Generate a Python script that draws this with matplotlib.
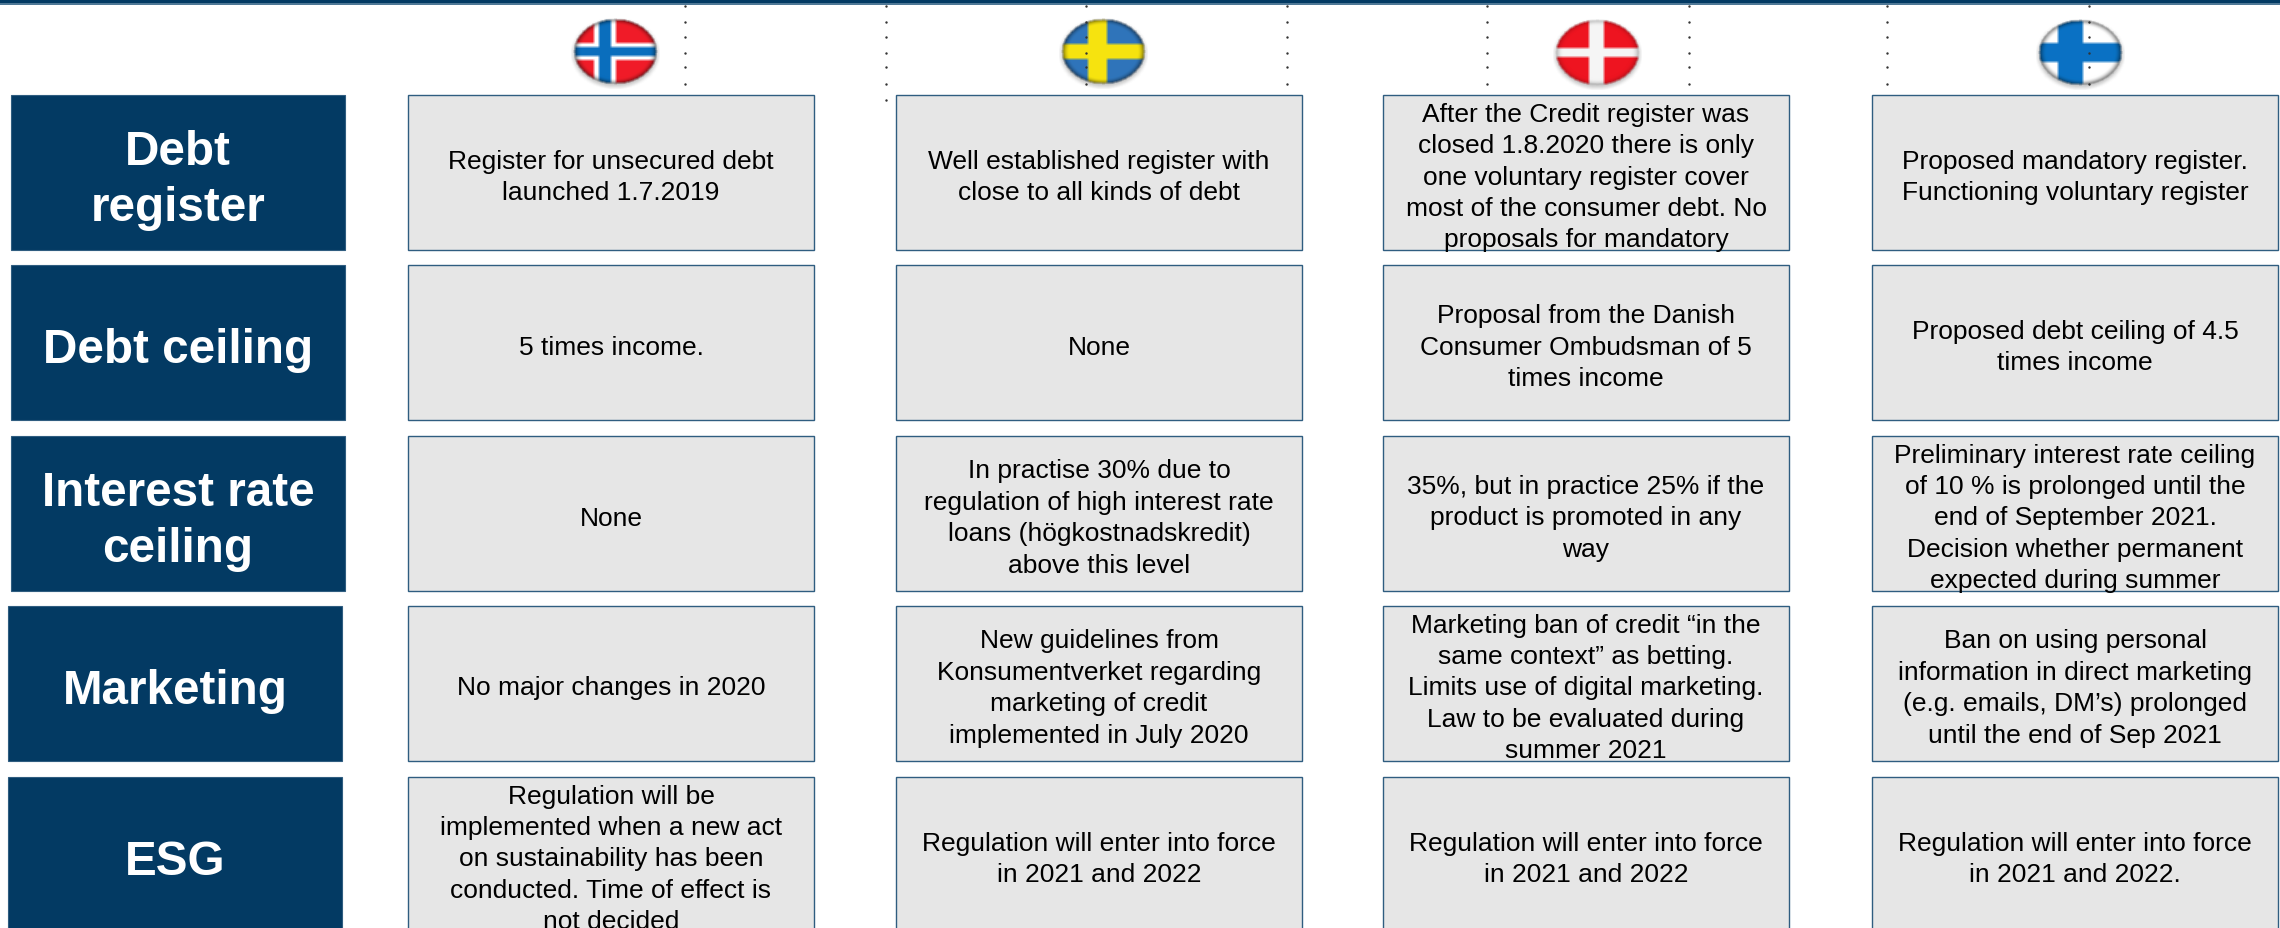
import numpy as np
import matplotlib
matplotlib.use("Agg")
import matplotlib.pyplot as plt
from matplotlib.patches import Rectangle

plt.rcParams['font.family'] = ['Liberation Sans', 'DejaVu Sans']

# Rows and text of the table
row_labels = ["Debt\nregister", "Debt ceiling", "Interest rate\nceiling", "Marketing", "ESG"]
norway = [
    "Register for unsecured debt\nlaunched 1.7.2019",
    "5 times income.",
    "None",
    "No major changes in 2020",
    "Regulation will be\nimplemented when a new act\non sustainability has been\nconducted. Time of effect is\nnot decided",
]
sweden = [
    "Well established register with\nclose to all kinds of debt",
    "None",
    "In practise 30% due to\nregulation of high interest rate\nloans (högkostnadskredit)\nabove this level",
    "New guidelines from\nKonsumentverket regarding\nmarketing of credit\nimplemented in July 2020",
    "Regulation will enter into force\nin 2021 and 2022",
]
denmark = [
    "After the Credit register was\nclosed 1.8.2020 there is only\none voluntary register cover\nmost of the consumer debt. No\nproposals for mandatory",
    "Proposal from the Danish\nConsumer Ombudsman of 5\ntimes income",
    "35%, but in practice 25% if the\nproduct is promoted in any\nway",
    "Marketing ban of credit “in the\nsame context” as betting.\nLimits use of digital marketing.\nLaw to be evaluated during\nsummer 2021",
    "Regulation will enter into force\nin 2021 and 2022",
]
finland = [
    "Proposed mandatory register.\nFunctioning voluntary register",
    "Proposed debt ceiling of 4.5\ntimes income",
    "Preliminary interest rate ceiling\nof 10 % is prolonged until the\nend of September 2021.\nDecision whether permanent\nexpected during summer",
    "Ban on using personal\ninformation in direct marketing\n(e.g. emails, DM’s) prolonged\nuntil the end of Sep 2021",
    "Regulation will enter into force\nin 2021 and 2022.",
]
columns = [norway, sweden, denmark, finland]

NAVY = '#033a63'
GREY = '#e6e6e6'

fig = plt.figure(figsize=(22.8, 9.29), dpi=100)
ax = fig.add_axes([0, 0, 1, 1])
ax.set_xlim(0, 2280)
ax.set_ylim(929, 0)
ax.axis('off')

# top band
ax.add_patch(Rectangle((0, 0), 2280, 4, fc=NAVY, ec='none'))
ax.add_patch(Rectangle((0, 4), 2280, 1.5, fc='#4f7896', ec='none'))

row_top = [96, 266, 437, 607, 778]
row_h = 155
head_left = [11, 11, 11, 8, 8]
col_left = [408, 896, 1383, 1872]
col_w = 406

# row headers
for top, left, label in zip(row_top, head_left, row_labels):
    ax.add_patch(Rectangle((left, top), 334, row_h, fc=NAVY, ec='#2f5d80', lw=0.8))
    ax.text(left + 167, top + row_h / 2 + 7, label, color='white', fontsize=34.3, fontweight='bold',
            ha='center', va='center', linespacing=1.29)

# grey cells
for left, col in zip(col_left, columns):
    for top, txt in zip(row_top, col):
        ax.add_patch(Rectangle((left, top), col_w, row_h, fc=GREY, ec='#2f5d80', lw=1))
        ax.text(left + col_w / 2, top + row_h / 2 + 4, txt, color='black', fontsize=19,
                ha='center', va='center', linespacing=1.39, clip_on=True)


def blur(a, n=5):
    # small box blur, run along both image axes
    k = np.ones(n) / n
    for axis in (0, 1):
        a = np.apply_along_axis(lambda m: np.convolve(m, k, mode='same'), axis, a)
    return a


def flag(cx, cy, bg, cross, inner=None, vx=0, vw=15, hw=9, rim=0.55):
    rx, ry = 41, 32
    pad = 8
    ys, xs = np.mgrid[-ry - pad:ry + pad + 1, -rx - pad:rx + pad + 1]
    r = np.sqrt((xs / rx) ** 2 + (ys / ry) ** 2)
    inside = (r <= 1).astype(float)

    # flag colours, slightly blurred like an enlarged bitmap
    rgb = np.zeros(xs.shape + (3,))
    rgb[:] = matplotlib.colors.to_rgb(bg)
    rgb[(np.abs(xs - vx) <= vw / 2) | (np.abs(ys) <= hw / 2)] = matplotlib.colors.to_rgb(cross)
    if inner:
        rgb[(np.abs(xs - vx) <= 6) | (np.abs(ys) <= 4.5)] = matplotlib.colors.to_rgb(inner)
    rgb = np.dstack([blur(rgb[:, :, i], 3) for i in range(3)])

    # darker towards the edge of the disc
    shade = 1 - rim * np.clip((r - 0.82) / 0.18, 0, 1) ** 2
    rgb = rgb * shade[:, :, None]

    # soft shadow below the disc
    shadow = blur((np.sqrt((xs / rx) ** 2 + ((ys - 2) / ry) ** 2) <= 1.02).astype(float), 7) * 0.45
    alpha = blur(inside, 3)
    a = alpha + (1 - alpha) * shadow
    rgba = np.dstack([rgb * (alpha / np.maximum(a, 1e-3))[:, :, None] + 0.35 * ((1 - alpha) * shadow / np.maximum(a, 1e-3))[:, :, None],
                      a])
    ax.imshow(np.clip(rgba, 0, 1), extent=(cx - rx - pad - 0.5, cx + rx + pad + 0.5, cy + ry + pad + 0.5, cy - ry - pad - 0.5),
              interpolation='bilinear', zorder=3, aspect='auto')


flag(615, 52, '#f01c28', 'white', inner='#0a6ebd', vx=-10.5, vw=21, hw=17)
flag(1103, 52, '#2f75bb', '#f7e40f', vx=-6, vw=18, hw=14)
flag(1597, 53, '#ee1420', '#f5f5f5', vx=-1, vw=15, hw=8, rim=0.25)
flag(2080, 53, '#ffffff', '#0a72c4', vx=-10, vw=25, hw=18)
ax.set_xlim(0, 2280)
ax.set_ylim(929, 0)

# dotted guide lines over the flags
for x in [685, 886, 1086, 1287, 1487, 1689, 1887, 2089]:
    ys = [7, 23, 38, 54, 68, 85]
    if x == 886:
        ys = ys + [101]
    ax.scatter([x] * len(ys), ys, s=3, c='#333333', lw=0, zorder=5)

fig.savefig('out.png', dpi=100)
